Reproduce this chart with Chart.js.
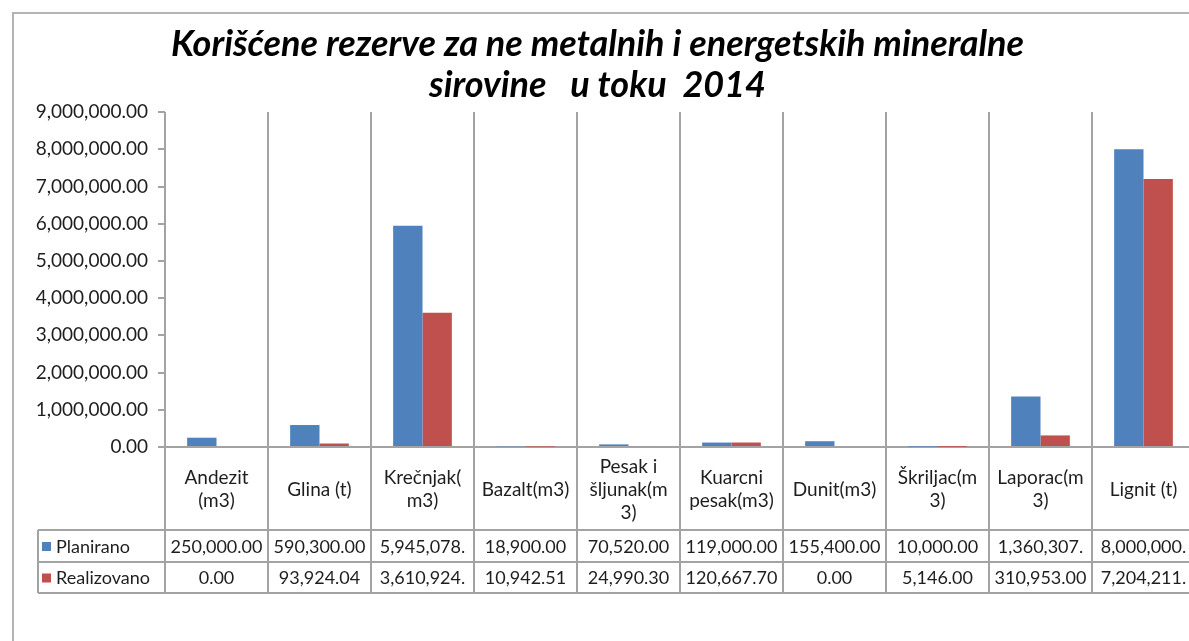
<!DOCTYPE html>
<html>
<head>
<meta charset="utf-8">
<title>Korišćene rezerve 2014</title>
<script src="https://cdn.jsdelivr.net/npm/chart.js@4"></script>
<style>
    html, body { margin: 0; padding: 0; background: #ffffff; overflow: hidden; }
    #wrap { position: absolute; left: 0; top: 0; width: 1215px; height: 641px; }
    #frame { position: absolute; left: 12px; top: 12px; width: 1300px; height: 700px;
             border-left: 2px solid #b4b4b4; border-top: 2px solid #b4b4b4; }
</style>
</head>
<body>
<div id="frame"></div>
<div id="wrap"><canvas id="chart" width="1215" height="641"></canvas></div>
<script>
// Categories as Excel wrapped them in the data table
const categories = [
    ['Andezit', '(m3)'],
    ['Glina (t)'],
    ['Krečnjak(', 'm3)'],
    ['Bazalt(m3)'],
    ['Pesak i', 'šljunak(m', '3)'],
    ['Kuarcni', 'pesak(m3)'],
    ['Dunit(m3)'],
    ['Škriljac(m', '3)'],
    ['Laporac(m', '3)'],
    ['Lignit (t)']
];
const planirano = [250000, 590300, 5945078, 18900, 70520, 119000, 155400, 10000, 1360307, 8000000];
const realizovano = [0, 93924.04, 3610924, 10942.51, 24990.30, 120667.70, 0, 5146, 310953, 7204211];
const yTicks = [0, 1000000, 2000000, 3000000, 4000000, 5000000, 6000000, 7000000, 8000000, 9000000];

const BLUE = '#4F81BD';
const RED = '#C0504D';
const LINE = '#a3a3a3';
const TEXT = '#1e1e1e';
const FONT = 'Lato, "Open Sans", sans-serif';

const fmt = (v) => v.toLocaleString('en-US', { minimumFractionDigits: 2, maximumFractionDigits: 2 });

// Excel cuts numbers that don't fit the cell
const fitText = (ctx, text, maxW) => {
    let t = text;
    while (t.length > 1 && ctx.measureText(t).width > maxW) t = t.slice(0, -1);
    return t;
};

// Data table under the plot, drawn from the scale positions
const dataTable = {
    id: 'dataTable',
    afterDraw(chart) {
        const ctx = chart.ctx;
        const x = chart.scales.x;
        const area = chart.chartArea;
        const half = (x.getPixelForValue(1) - x.getPixelForValue(0)) / 2;
        const headBottom = 530, row1Bottom = 562, row2Bottom = 593, legendLeft = 38;

        ctx.save();
        ctx.strokeStyle = LINE;
        ctx.lineWidth = 2;

        // vertical dividers
        ctx.beginPath();
        ctx.moveTo(area.left, area.top);
        ctx.lineTo(area.left, row2Bottom);
        categories.forEach((c, i) => {
            const bx = x.getPixelForValue(i) + half;
            ctx.moveTo(bx, area.top);
            ctx.lineTo(bx, row2Bottom);
        });
        ctx.moveTo(legendLeft, headBottom);
        ctx.lineTo(legendLeft, row2Bottom);
        // horizontal rows
        [headBottom, row1Bottom, row2Bottom].forEach(y => {
            ctx.moveTo(legendLeft, y);
            ctx.lineTo(x.getPixelForValue(categories.length - 1) + half, y);
        });
        ctx.stroke();

        ctx.fillStyle = TEXT;
        ctx.textAlign = 'center';
        ctx.textBaseline = 'middle';

        // category header
        ctx.font = '19px ' + FONT;
        const lh = 23;
        const headMid = (area.bottom + headBottom) / 2 + 1;
        categories.forEach((lines, i) => {
            const cx = x.getPixelForValue(i);
            const y0 = headMid - (lines.length - 1) * lh / 2;
            lines.forEach((l, k) => ctx.fillText(l, cx, y0 + k * lh));
        });

        // value rows
        ctx.font = '18px ' + FONT;
        const rows = [
            { label: 'Planirano', color: BLUE, values: planirano, y: (headBottom + row1Bottom) / 2 + 1 },
            { label: 'Realizovano', color: RED, values: realizovano, y: (row1Bottom + row2Bottom) / 2 + 1 }
        ];
        rows.forEach(r => {
            r.values.forEach((v, i) => {
                ctx.fillText(fitText(ctx, fmt(v), half * 2 - 10), x.getPixelForValue(i), r.y);
            });
            ctx.fillStyle = r.color;
            ctx.fillRect(legendLeft + 4, r.y - 5, 9, 9);
            ctx.fillStyle = TEXT;
            ctx.textAlign = 'left';
            ctx.fillText(r.label, legendLeft + 18, r.y);
            ctx.textAlign = 'center';
        });
        ctx.restore();
    }
};

new Chart(document.getElementById('chart').getContext('2d'), {
    type: 'bar',
    data: {
        labels: categories.map(c => c.join(' ')),
        datasets: [
            { label: 'Planirano', data: planirano, backgroundColor: BLUE,
              categoryPercentage: 0.57, barPercentage: 1 },
            { label: 'Realizovano', data: realizovano, backgroundColor: RED,
              categoryPercentage: 0.57, barPercentage: 1 }
        ]
    },
    options: {
        responsive: false,
        animation: false,
        layout: { padding: { left: 0, right: 20, top: 14, bottom: 0 } },
        scales: {
            x: {
                grid: { display: false },
                border: { display: true, color: LINE, width: 2 },
                ticks: { display: false },
                afterFit: (s) => { s.height = 194; }
            },
            y: {
                min: 0,
                max: 9000000,
                afterBuildTicks: (s) => { s.ticks = yTicks.map(v => ({ value: v })); },
                grid: { drawOnChartArea: false, tickLength: 7, color: LINE, lineWidth: 2 },
                border: { display: false },
                ticks: {
                    color: TEXT,
                    padding: 10,
                    font: { family: FONT, size: 19 },
                    callback: (v) => fmt(v)
                },
                afterFit: (s) => { s.width = 165; }
            }
        },
        plugins: {
            legend: { display: false },
            tooltip: { enabled: false },
            title: {
                display: true,
                text: ['Korišćene rezerve za ne metalnih i energetskih mineralne', 'sirovine   u toku  2014'],
                color: '#000',
                font: { family: FONT, size: 36, weight: 'bold', style: 'italic', lineHeight: 1.14 },
                padding: { top: 10, bottom: 6 }
            }
        }
    },
    plugins: [dataTable]
});
</script>
</body>
</html>
